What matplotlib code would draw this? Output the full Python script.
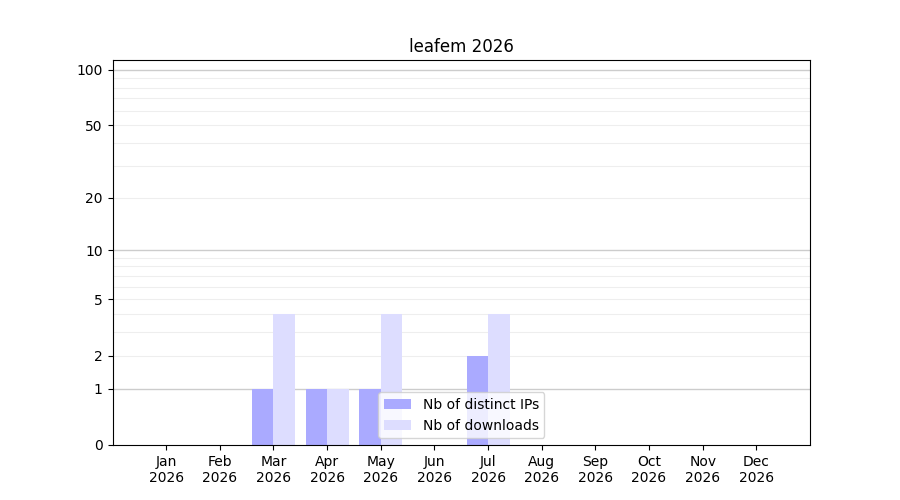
import numpy as np
import matplotlib
matplotlib.use('Agg')
import matplotlib.pyplot as plt

months = ['Jan', 'Feb', 'Mar', 'Apr', 'May', 'Jun', 'Jul', 'Aug', 'Sep', 'Oct', 'Nov', 'Dec']
year = '2026'
ips = [0, 0, 1, 1, 1, 0, 2, 0, 0, 0, 0, 0]
downloads = [0, 0, 4, 1, 4, 0, 4, 0, 0, 0, 0, 0]
yticks = [0, 1, 2, 5, 10, 20, 50, 100]

fig, ax = plt.subplots(figsize=(9, 5), dpi=100)

# log(1+x) scale
ax.set_yscale('function', functions=(lambda v: np.log10(1 + np.clip(v, 0, None)),
                                     lambda v: 10 ** v - 1))

x = np.arange(len(months))
ax.bar(x, ips, width=-0.4, align='edge', color='#aaaaff', label='Nb of distinct IPs')
ax.bar(x, downloads, width=0.4, align='edge', color='#ddddff', label='Nb of downloads')

# grid
minor = [v for d in (1, 10) for v in range(2 * d, 10 * d, d)]
for v in minor:
    ax.axhline(v, color='#eeeeee', lw=0.8, zorder=0)
for v in (1, 10, 100):
    ax.axhline(v, color='#cccccc', lw=1, zorder=0)

ax.set_yticks(yticks)
ax.set_yticklabels([str(t) for t in yticks])
ax.minorticks_off()
ax.set_ylim(0, 113)
ax.set_xlim(-1, 12)
ax.set_xticks(x)
ax.set_xticklabels([m + '\n' + year for m in months])
ax.set_title('leafem ' + year)
ax.legend(loc='lower center')

plt.savefig('out.png')
